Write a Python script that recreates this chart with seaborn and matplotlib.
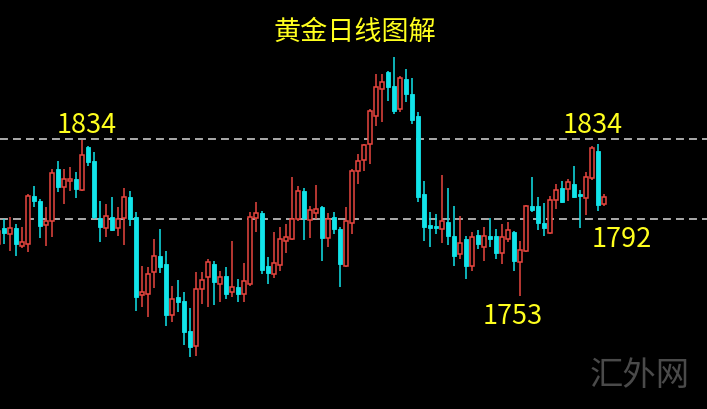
import matplotlib
matplotlib.use("Agg")
import matplotlib.pyplot as plt
import numpy as np
import seaborn as sns

# daily gold candles (first one is cut by the left edge)
opens = [1778.9, 1787.3, 1784.1, 1787.3, 1777.8, 1778.9, 1804.1, 1801.5, 1788.9, 1791.0,
         1818.3, 1808.8, 1812.0, 1813.0, 1807.2, 1829.8, 1822.5, 1792.5, 1787.3, 1793.1,
         1787.3, 1792.5, 1803.6, 1793.1, 1752.1, 1752.6, 1764.2, 1772.6, 1768.4, 1741.6,
         1751.1, 1749.0, 1733.2, 1725.3, 1755.3, 1761.6, 1768.4, 1757.9, 1762.1, 1753.7,
         1756.3, 1752.6, 1757.9, 1792.5, 1795.2, 1767.3, 1763.1, 1767.9, 1780.5, 1781.5,
         1792.0, 1806.7, 1791.5, 1795.2, 1798.3, 1782.0, 1793.1, 1786.8, 1767.3, 1789.9,
         1817.2, 1823.0, 1831.4, 1846.1, 1860.3, 1869.2, 1861.8, 1849.8, 1865.5, 1857.6,
         1846.1, 1805.1, 1788.9, 1788.3, 1786.8, 1790.4, 1783.1, 1773.6, 1781.5, 1767.3,
         1783.6, 1777.3, 1783.1, 1783.1, 1774.2, 1781.5, 1785.2, 1769.4, 1775.2, 1798.8,
         1798.8, 1789.9, 1784.7, 1802.0, 1808.3, 1807.8, 1810.4, 1805.1, 1803.0, 1813.5,
         1827.7, 1799.9]
highs = [1788.3, 1792.0, 1793.1, 1789.4, 1787.8, 1805.1, 1809.3, 1802.5, 1798.3, 1818.3,
         1822.5, 1818.3, 1819.3, 1816.7, 1833.5, 1830.3, 1827.2, 1801.5, 1799.9, 1803.6,
         1798.3, 1808.3, 1806.7, 1795.7, 1767.3, 1766.8, 1781.5, 1786.8, 1775.2, 1756.8,
         1760.0, 1753.7, 1745.3, 1764.2, 1764.2, 1771.0, 1770.0, 1764.7, 1766.8, 1780.5,
         1760.5, 1768.9, 1795.7, 1800.9, 1796.2, 1772.1, 1785.2, 1787.8, 1789.4, 1814.1,
         1809.3, 1808.3, 1798.8, 1809.9, 1799.0, 1795.2, 1795.7, 1787.8, 1798.3, 1818.3,
         1826.1, 1831.4, 1849.8, 1868.1, 1868.1, 1869.7, 1877.1, 1867.1, 1870.8, 1866.0,
         1848.2, 1812.0, 1795.7, 1794.6, 1815.1, 1808.3, 1798.8, 1793.6, 1783.1, 1785.2,
         1786.2, 1787.8, 1792.5, 1786.8, 1789.4, 1790.4, 1785.7, 1780.5, 1799.4, 1814.1,
         1803.6, 1800.4, 1804.1, 1810.4, 1812.0, 1813.0, 1819.8, 1807.2, 1816.7, 1830.3,
         1831.4, 1805.1]
lows = [1777.8, 1778.9, 1775.2, 1772.6, 1776.8, 1774.7, 1798.3, 1782.0, 1777.8, 1782.6,
        1806.2, 1799.9, 1806.7, 1803.0, 1806.7, 1819.8, 1792.0, 1779.9, 1782.6, 1785.7,
        1783.1, 1778.4, 1788.3, 1743.7, 1745.8, 1740.6, 1755.8, 1763.7, 1735.8, 1737.9,
        1743.2, 1725.9, 1719.6, 1720.1, 1747.4, 1745.8, 1746.9, 1748.4, 1750.0, 1751.1,
        1748.4, 1748.4, 1756.8, 1785.2, 1763.1, 1757.9, 1761.0, 1764.7, 1774.2, 1781.0,
        1791.0, 1781.0, 1782.0, 1792.0, 1770.0, 1777.3, 1784.1, 1756.3, 1766.8, 1784.1,
        1810.4, 1817.2, 1820.9, 1840.8, 1842.9, 1854.0, 1847.1, 1848.2, 1853.4, 1841.9,
        1800.9, 1780.5, 1777.3, 1784.1, 1779.4, 1778.4, 1767.3, 1771.0, 1760.5, 1764.7,
        1776.3, 1770.0, 1777.3, 1771.0, 1768.4, 1779.9, 1764.7, 1751.6, 1774.7, 1795.7,
        1786.2, 1783.1, 1784.1, 1797.3, 1800.4, 1801.5, 1803.0, 1787.3, 1794.1, 1812.5,
        1796.2, 1798.8]
closes = [1785.7, 1784.7, 1787.3, 1778.9, 1779.9, 1804.1, 1801.5, 1788.3, 1791.0, 1816.2,
          1808.8, 1813.0, 1813.0, 1807.8, 1825.6, 1821.9, 1793.1, 1787.8, 1793.6, 1786.2,
          1792.0, 1803.6, 1792.0, 1751.1, 1753.7, 1763.1, 1772.6, 1766.8, 1741.6, 1750.0,
          1748.4, 1732.7, 1724.8, 1755.3, 1760.0, 1769.4, 1758.9, 1761.6, 1752.6, 1756.3,
          1752.6, 1759.5, 1793.1, 1795.2, 1765.2, 1763.7, 1768.9, 1781.5, 1782.6, 1792.0,
          1806.7, 1792.5, 1796.7, 1797.3, 1782.0, 1792.0, 1786.8, 1768.4, 1791.0, 1817.2,
          1822.5, 1830.9, 1848.7, 1861.3, 1863.9, 1861.3, 1848.7, 1866.0, 1857.6, 1844.0,
          1803.6, 1787.8, 1787.3, 1787.3, 1791.0, 1783.1, 1772.6, 1779.4, 1767.3, 1782.6,
          1778.9, 1783.1, 1781.5, 1774.2, 1782.6, 1786.2, 1770.0, 1775.7, 1798.8, 1796.7,
          1789.9, 1787.3, 1802.0, 1807.2, 1800.9, 1811.4, 1803.6, 1804.1, 1814.1, 1829.3,
          1799.4, 1803.6]

levels = [1834, 1792]
title = "黄金日线图解"
labels = ["1834", "1834", "1792", "1753"]
label_pos = [(13.7, 1841.5), (98.2, 1841.5), (103.0, 1781.5), (84.8, 1741.3)]

UP = "#e8463f"
DOWN = "#12e4ea"

sns.set_style("dark", {"axes.facecolor": "black", "figure.facecolor": "black"})
plt.rcParams["font.family"] = ["Noto Sans CJK SC", "DejaVu Sans"]

fig = plt.figure(figsize=(7.07, 4.10), dpi=100)
ax = fig.add_axes([0, 0, 1, 1])
ax.set_facecolor("black")

o = np.array(opens)
h = np.array(highs)
l = np.array(lows)
c = np.array(closes)
x = np.arange(len(o)) - 1
up = c >= o

# wicks
ax.vlines(x[up], l[up], h[up], color=UP, lw=1.1, zorder=2)
ax.vlines(x[~up], l[~up], h[~up], color=DOWN, lw=1.1, zorder=2)

# bodies: hollow red up-candles, solid cyan down-candles
bot = np.minimum(o, c)
hgt = np.maximum(np.abs(c - o), 0.6)
ax.bar(x[up], hgt[up], bottom=bot[up], width=0.62, facecolor="black",
       edgecolor=UP, linewidth=1.1, zorder=3)
ax.bar(x[~up], hgt[~up], bottom=bot[~up], width=0.7, facecolor=DOWN,
       edgecolor=DOWN, linewidth=0.6, zorder=3)

for lv in levels:
    ax.axhline(lv, color="#b8b8b8", lw=1.3, dashes=(4.4, 2.8), zorder=1)

for txt, (px, py) in zip(labels, label_pos):
    ax.text(px, py, txt, color="#ffff1e", fontsize=19.5, ha="center", va="center", zorder=4)

fig.text(0.502, 0.922, title, color="#ffff1e", fontsize=19.5, ha="center", va="center")
fig.text(0.905, 0.085, "汇外网", color="#4a4a4a", fontsize=24, ha="center", va="center",
         fontweight="light")

ax.set_xlim(-0.667, 117.17)
ax.set_ylim(1692.25, 1907.5)
ax.set_xticks([])
ax.set_yticks([])
for s in ax.spines.values():
    s.set_visible(False)

fig.savefig("out.png", dpi=100, facecolor="black")
